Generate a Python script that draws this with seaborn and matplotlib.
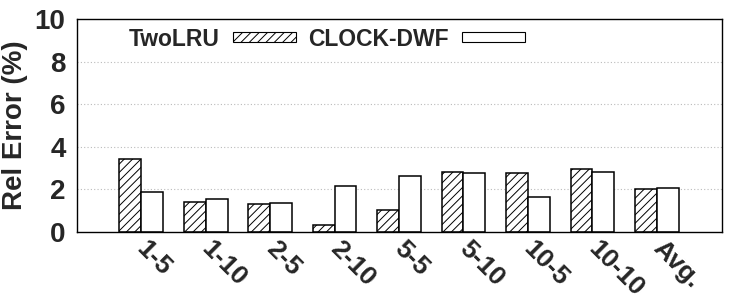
import matplotlib
matplotlib.use("Agg")
import matplotlib.pyplot as plt
import matplotlib.patches as mpatches
import matplotlib.transforms as mtransforms
import seaborn as sns
import pandas as pd

categories = ["1-5", "1-10", "2-5", "2-10", "5-5", "5-10", "10-5", "10-10", "Avg."]
twolru = [3.43, 1.39, 1.30, 0.31, 1.03, 2.80, 2.77, 2.94, 2.00]
clockdwf = [1.86, 1.55, 1.36, 2.14, 2.61, 2.75, 1.66, 2.82, 2.08]
series = ["TwoLRU", "CLOCK-DWF"]

df = pd.DataFrame({
    "cat": categories * 2,
    "val": twolru + clockdwf,
    "series": [series[0]] * len(categories) + [series[1]] * len(categories),
})

sns.set_style("white")
plt.rcParams["font.family"] = ["Liberation Sans", "DejaVu Sans"]
plt.rcParams["font.weight"] = "bold"
plt.rcParams["hatch.linewidth"] = 0.7
plt.rcParams["hatch.color"] = "#444444"

W, H = 750, 300
L, R, T, B = 76.7, 722, 19, 232
fig = plt.figure(figsize=(7.5, 3.0), dpi=100)
ax = fig.add_axes([L / W, 1 - B / H, (R - L) / W, (B - T) / H])

w = 0.34
sns.barplot(data=df, x="cat", y="val", hue="series", order=categories,
            hue_order=series, palette=["white", "white"], edgecolor="black",
            linewidth=1.1, width=2 * w, gap=0, ax=ax, legend=False)
for bar in ax.containers[0]:
    bar.set_hatch("////")

ax.set_xlim(-1.0, 9.01)
ax.set_ylim(0, 10)
ax.set_yticks([0, 2, 4, 6, 8, 10])
ax.set_yticklabels(["0", "2", "4", "6", "8", "10"], fontsize=20, fontweight="bold")
ax.tick_params(axis="y", direction="in", length=4, pad=8)
for y in [2, 4, 6, 8]:
    ax.axhline(y, color="#bbbbbb", linestyle=(0, (1, 2)), linewidth=0.8, zorder=0)

ax.set_xticks([i + w for i in range(len(categories))], minor=True)
ax.tick_params(axis="x", which="minor", direction="in", length=4, width=0.8)
ax.set_xticks(range(len(categories)))
ax.set_xticklabels(categories, rotation=-45, ha="left", va="top",
                   rotation_mode="anchor", fontsize=19, fontweight="bold")
ax.tick_params(axis="x", which="major", length=0, pad=3)
shift = mtransforms.ScaledTranslation(8 / 100, 0, fig.dpi_scale_trans)
for lab in ax.get_xticklabels():
    lab.set_transform(lab.get_transform() + shift)

ax.set_xlabel("")
ax.set_ylabel("Rel Error (%)", fontsize=20, fontweight="bold")
ax.yaxis.set_label_coords((27.5 - L) / (R - L), 0.5)

for s in ax.spines.values():
    s.set_visible(True)
    s.set_color("black")
    s.set_linewidth(1.0)

handles = [
    mpatches.Patch(facecolor="white", edgecolor="black", hatch="////", linewidth=0.8),
    mpatches.Patch(facecolor="white", edgecolor="black", linewidth=0.8),
]
fig.legend(handles, series, loc="center left", bbox_to_anchor=(129 / W, 1 - 39 / H),
           bbox_transform=fig.transFigure, ncol=2, borderpad=0, borderaxespad=0,
           frameon=False, markerfirst=False, handlelength=2.75, handleheight=0.31,
           handletextpad=0.57, columnspacing=0.52, prop={"size": 16.5, "weight": "bold"})

fig.savefig("out.png", dpi=100)
